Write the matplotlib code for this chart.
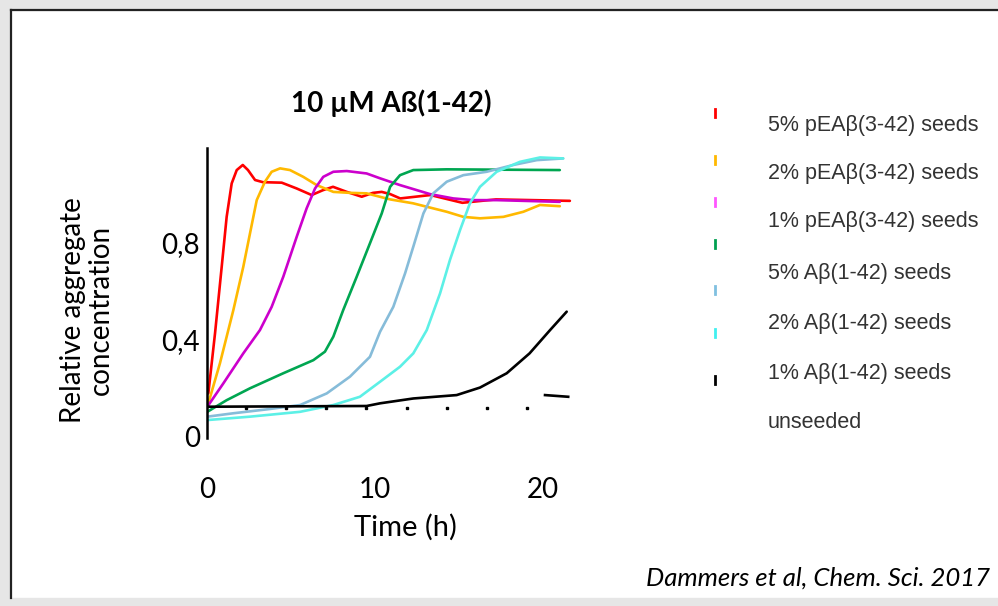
import numpy as np
import matplotlib
matplotlib.use("Agg")
import matplotlib.pyplot as plt
from matplotlib.lines import Line2D
from matplotlib.patches import Rectangle

# --- data (time in h, relative aggregate concentration) ---
red_t = [0.08, 0.48, 0.875, 1.17, 1.47, 1.77, 2.13, 2.44, 2.86, 3.33, 4.45, 5.34, 6.23, 6.9, 7.5,
         8.32, 9.21, 9.88, 10.4, 10.9, 11.5, 13.3, 15.2, 17.2, 21.6]
red_y = [0.176, 0.425, 0.698, 0.904, 1.042, 1.097, 1.118, 1.097, 1.056, 1.047, 1.045, 1.021, 0.994,
         1.014, 1.028, 1.007, 0.987, 1.003, 1.007, 0.998, 0.98, 0.994, 0.962, 0.976, 0.97]

orange_t = [0.02, 0.77, 1.57, 2.16, 2.56, 2.96, 3.45, 3.85, 4.35, 4.94, 5.73, 6.53, 7.52, 8.51, 9.5,
            10.9, 12.26, 14.27, 15.26, 16.25, 17.64, 18.83, 19.82, 21.0]
orange_y = [0.121, 0.30, 0.52, 0.698, 0.836, 0.973, 1.049, 1.09, 1.104, 1.097, 1.069, 1.035, 1.007,
            1.003, 1.001, 0.976, 0.96, 0.925, 0.904, 0.898, 0.904, 0.925, 0.953, 0.948]

magenta_t = [0.02, 0.97, 2.16, 3.15, 3.85, 4.54, 5.34, 5.93, 6.43, 6.92, 7.52, 8.32, 9.5, 10.3,
             11.49, 13.27, 14.66, 15.85, 17.24, 21.0]
magenta_y = [0.121, 0.217, 0.341, 0.437, 0.533, 0.657, 0.822, 0.939, 1.021, 1.069, 1.09, 1.093,
             1.083, 1.063, 1.035, 0.998, 0.98, 0.973, 0.973, 0.966]

green_t = [0.02, 1.17, 2.56, 4.54, 6.33, 7.02, 7.52, 8.11, 8.91, 9.7, 10.4, 10.9, 11.49, 12.28,
           14.27, 21.0]
green_y = [0.10, 0.148, 0.197, 0.259, 0.313, 0.348, 0.41, 0.52, 0.657, 0.795, 0.918, 1.028, 1.076,
           1.097, 1.1, 1.097]

lblue_t = [0.02, 1.57, 3.55, 5.54, 7.13, 8.51, 9.7, 10.3, 11.09, 11.79, 12.28, 12.88, 13.47, 14.27,
           15.26, 16.65, 18.23, 19.63, 21.2]
lblue_y = [0.08, 0.094, 0.11, 0.128, 0.176, 0.245, 0.327, 0.43, 0.533, 0.671, 0.781, 0.918, 1.001,
           1.049, 1.076, 1.09, 1.118, 1.138, 1.145]

cyan_t = [0.02, 2.56, 5.54, 7.52, 9.1, 10.3, 11.49, 12.28, 13.08, 13.87, 14.46, 15.06, 15.65, 16.25,
          17.24, 18.63, 19.82, 21.2]
cyan_y = [0.066, 0.08, 0.1, 0.128, 0.162, 0.224, 0.286, 0.341, 0.437, 0.588, 0.726, 0.849, 0.96,
          1.028, 1.09, 1.131, 1.149, 1.145]

black_t = [0.02, 9.5, 10.3, 12.28, 14.86, 16.25, 17.84, 19.2, 20.42, 21.41]
black_y = [0.121, 0.124, 0.135, 0.155, 0.169, 0.2, 0.259, 0.341, 0.437, 0.513]

unseeded_t = [2.32, 4.70, 7.08, 9.46, 11.89, 14.27, 16.68, 19.07]
unseeded_y = [0.117, 0.117, 0.117, 0.117, 0.117, 0.117, 0.117, 0.117]
unseeded_tail_t = [20.12, 21.5]
unseeded_tail_y = [0.169, 0.162]

series = [
    (red_t, red_y, "#ff0000"),
    (orange_t, orange_y, "#ffb900"),
    (magenta_t, magenta_y, "#cc00cc"),
    (green_t, green_y, "#00a651"),
    (lblue_t, lblue_y, "#86bcd9"),
    (cyan_t, cyan_y, "#5cf0e6"),
    (black_t, black_y, "#000000"),
]

legend_labels = ["5% pEA\u03b2(3-42) seeds", "2% pEA\u03b2(3-42) seeds", "1% pEA\u03b2(3-42) seeds",
                 "5% A\u03b2(1-42) seeds", "2% A\u03b2(1-42) seeds", "1% A\u03b2(1-42) seeds",
                 "unseeded"]
legend_colors = ["#ff0000", "#ffb800", "#ff55ff", "#00a050", "#80c0e0", "#40f0f0", "#000000", None]

W, H = 998, 606
fig = plt.figure(figsize=(W / 100, H / 100), dpi=100)
fig.patch.set_facecolor("white")

def fx(px):
    return px / W

def fy(py):
    return 1 - py / H

# slide frame: grey margins and dark border
fig.patches.append(Rectangle((0, 0), fx(10), 1, transform=fig.transFigure, color="#e6e6e6", zorder=0))
fig.patches.append(Rectangle((0, fy(10)), 1, 10 / H, transform=fig.transFigure, color="#e6e6e6", zorder=0))
fig.patches.append(Rectangle((0, 0), 1, 8 / H, transform=fig.transFigure, color="#e6e6e6", zorder=0))
fig.lines.append(Line2D([fx(11), fx(11)], [fy(598), fy(10)], transform=fig.transFigure, color="#222222", lw=1.6))
fig.lines.append(Line2D([fx(11), 1], [fy(10), fy(10)], transform=fig.transFigure, color="#222222", lw=1.6))

# axes: x 0 -> px 207, 16.8 px per hour; y 0 -> px 436, 242.5 px per unit
ax = fig.add_axes([fx(207), fy(438), 369.6 / W, 290 / H])
ax.set_xlim(0, 22)
ax.set_ylim(-0.008, 1.188)
ax.patch.set_alpha(0)

for t, y, c in series:
    ax.plot(t, y, color=c, lw=1.9, solid_capstyle="round", solid_joinstyle="round")
ax.plot(unseeded_t, unseeded_y, ls="none", marker="s", ms=1.6, color="black")
ax.plot(unseeded_tail_t, unseeded_tail_y, color="black", lw=1.9)

for s in ["top", "right", "bottom"]:
    ax.spines[s].set_visible(False)
ax.spines["left"].set_linewidth(1.8)
ax.set_xticks([0, 10, 20])
ax.set_xticklabels(["0", "10", "20"])
ax.set_yticks([0, 0.4, 0.8])
ax.set_yticklabels(["0", "0,4", "0,8"])
ax.tick_params(length=0, labelsize=20)
ax.tick_params(axis="x", pad=28)
ax.tick_params(axis="y", pad=5)
for lab in ax.get_xticklabels() + ax.get_yticklabels():
    lab.set_family("Lato")

fig.text(fx(391), fy(103), "10 \u00b5M A\u00df(1-42)", ha="center", va="center",
         fontsize=20, fontweight="bold", family="Lato")
fig.text(fx(405), fy(527), "Time (h)", ha="center", va="center", fontsize=21, family="Lato")
fig.text(fx(87), fy(310), "Relative aggregate\nconcentration", ha="center", va="center",
         rotation=90, fontsize=20, family="Lato", linespacing=1.1)

# legend: small coloured ticks and text, drawn separately as in the source
mark_y = [113, 160, 202, 244, 290, 333, 380]
text_y = [125, 173, 222, 273, 323, 373, 423]
for i, lab in enumerate(legend_labels):
    c = legend_colors[i]
    if c is not None and i < len(mark_y):
        fig.lines.append(Line2D([fx(715), fx(715)], [fy(mark_y[i] - 4), fy(mark_y[i] + 4)],
                                transform=fig.transFigure, color=c, lw=2))
    fig.text(fx(768), fy(text_y[i]), lab, ha="left", va="center", fontsize=15.5,
             family="Liberation Sans", color="#333333")

fig.text(fx(990), fy(578), "Dammers et al, Chem. Sci. 2017", ha="right", va="center",
         fontsize=18.5, family="Lato", style="italic")

fig.savefig("out.png", dpi=100)
